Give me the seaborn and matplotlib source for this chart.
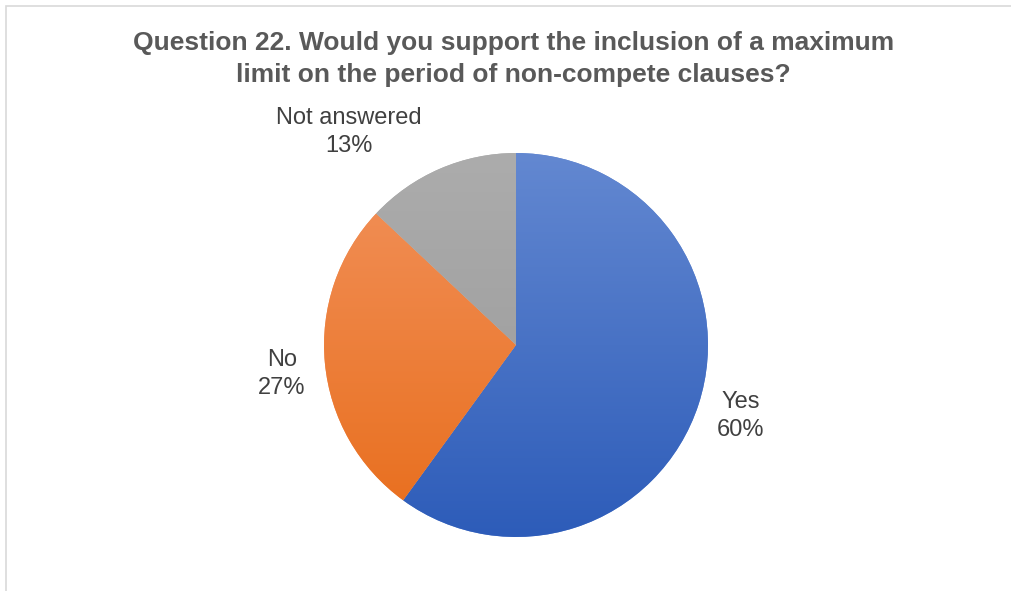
import numpy as np
import matplotlib
matplotlib.use("Agg")
import matplotlib.pyplot as plt
import seaborn as sns
from matplotlib.colors import LinearSegmentedColormap
from matplotlib.patches import Rectangle

# Data
answers = ["Yes", "No", "Not answered"]
shares = [60, 27, 13]
# top / bottom colour of each slice (Excel-style gradient)
top_colors = ["#6388d1", "#f2925c", "#acacac"]
bottom_colors = ["#2d5cb9", "#e86d1b", "#989898"]
# label positions in pie units
label_xy = [(1.17, -0.37), (-1.22, -0.15), (-0.87, 1.11)]

sns.set_theme(style="white")
plt.rcParams["font.family"] = ["Liberation Sans", "DejaVu Sans"]

fig = plt.figure(figsize=(10.12, 5.91), dpi=100)

# chart border (cropped at right and bottom)
fig.patches.append(Rectangle((6.5 / 1012, -0.1), 1.2, (591 - 5.5) / 591 + 0.1,
                             transform=fig.transFigure, fill=False,
                             edgecolor="#d9d9d9", linewidth=1.2))

ax = fig.add_axes([0.3202, 0.0914, 0.3794, 0.6497])
wedges, _ = ax.pie(shares, startangle=90, counterclock=False,
                   colors=top_colors, wedgeprops=dict(linewidth=0))

# vertical gradient fill clipped to each wedge
grad = np.linspace(0, 1, 256).reshape(-1, 1)
for w, c1, c2 in zip(wedges, top_colors, bottom_colors):
    cmap = LinearSegmentedColormap.from_list("g", [c2, c1])
    im = ax.imshow(grad, extent=(-1, 1, -1, 1), origin="lower", cmap=cmap,
                   aspect="auto", zorder=w.get_zorder() + 0.1)
    im.set_clip_path(w)
ax.set_xlim(-1, 1)
ax.set_ylim(-1, 1)
ax.axis("off")

for name, pct, (x, y) in zip(answers, shares, label_xy):
    ax.text(x, y, f"{name}\n{pct}%", ha="center", va="center",
            fontsize=17, color="#404040", linespacing=1.35, clip_on=False)

fig.text(0.507, 0.90, "Question 22. Would you support the inclusion of a maximum\n"
         "limit on the period of non-compete clauses?",
         ha="center", va="center", fontsize=19, fontweight="bold",
         color="#595959", linespacing=1.4)

fig.savefig("out.png", dpi=100)
